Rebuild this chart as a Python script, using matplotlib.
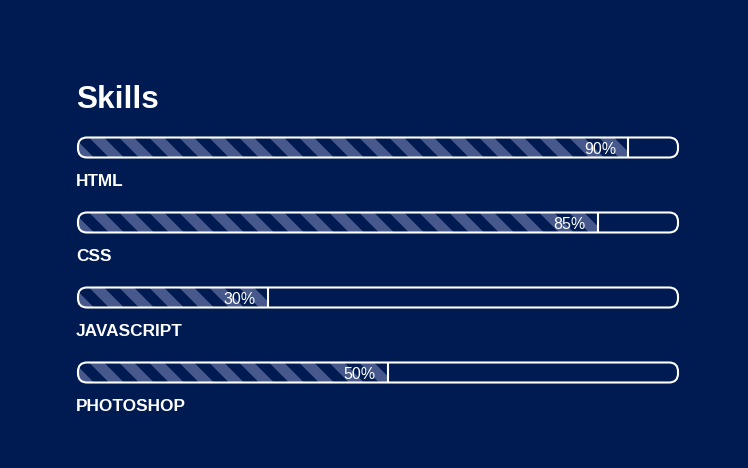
import matplotlib
matplotlib.use("Agg")
import matplotlib.pyplot as plt
from matplotlib.patches import FancyBboxPatch, Polygon, Rectangle

# ---- data ----
skills = ["HTML", "CSS", "JAVASCRIPT", "PHOTOSHOP"]
values = [90, 85, 30, 50]
title = "Skills"

BG = "#001a52"
STRIPE = "#47598c"
WHITE = "#ffffff"

W, H = 748, 468
fig = plt.figure(figsize=(W / 100, H / 100), dpi=100, facecolor=BG)
plt.rcParams["font.family"] = ["Liberation Sans", "DejaVu Sans"]

# axes: x in percent (0 at px 88, 100 at px 688); y in row index (row centre every 75 px)
ax = fig.add_axes([0, 0, 1, 1])
ax.set_facecolor(BG)
x0_px, scale_px = 88.0, 6.0
ax.set_xlim((0 - x0_px) / scale_px, (W - x0_px) / scale_px)
row_px, first_center = 75.0, 147.5
ax.set_ylim((H - first_center) / row_px, (0 - first_center) / row_px)
ax.axis("off")

px_x = 1 / scale_px          # data units per pixel in x
px_y = 1 / row_px            # data units per pixel in y
aspect = px_y / px_x

track_left = -10 * px_x
track_right = 590 * px_x
half_h = 10 * px_y
radius = 9 * px_x

for i, (name, v) in enumerate(zip(skills, values)):
    yc = i
    track = FancyBboxPatch((track_left, yc - half_h), track_right - track_left, 2 * half_h,
                           boxstyle=f"round,pad=0,rounding_size={radius}",
                           mutation_aspect=aspect, transform=ax.transData,
                           facecolor="none", edgecolor=WHITE, linewidth=1.5, zorder=4)
    clip = FancyBboxPatch((track_left, yc - half_h), track_right - track_left, 2 * half_h,
                          boxstyle=f"round,pad=0,rounding_size={radius}",
                          mutation_aspect=aspect, transform=ax.transData,
                          facecolor="none", edgecolor="none")
    # stripes (45 deg, period 30 px, width 15 px)
    period, sw, hpx = 30, 15, 20
    x = 1 - 10 * period
    while x < v / px_x + 30:
        xs = x * px_x
        poly = Polygon([(xs, yc - half_h), (xs + sw * px_x, yc - half_h),
                        (xs + (sw + hpx) * px_x, yc + half_h), (xs + hpx * px_x, yc + half_h)],
                       closed=True, facecolor=STRIPE, edgecolor="none", zorder=1)
        ax.add_patch(poly)
        poly.set_clip_path(clip)
        x += period
    # cover beyond fill
    cover = Rectangle((v, yc - half_h * 1.2), track_right - v + 1, 2.4 * half_h,
                      facecolor=BG, edgecolor="none", zorder=2)
    ax.add_patch(cover)
    cover.set_clip_path(clip)
    ax.add_patch(track)
    ax.plot([v, v], [yc - half_h, yc + half_h], color=WHITE, lw=1.5, zorder=3,
            solid_capstyle="butt")
    ax.text(v - 12 * px_x, yc + 6.8 * px_y, f"{v}%", color=WHITE, fontsize=11.5,
            ha="right", va="baseline", zorder=5)
    ax.text(-12 * px_x, yc + 38.5 * px_y, name, color=WHITE, fontsize=12.4,
            fontweight="bold", ha="left", va="baseline", zorder=5)

ax.text(-12 * px_x, (108.5 - first_center) * px_y, title, color=WHITE, fontsize=22.8,
        fontweight="bold", ha="left", va="baseline")

fig.savefig("out.png", dpi=100, facecolor=BG)
